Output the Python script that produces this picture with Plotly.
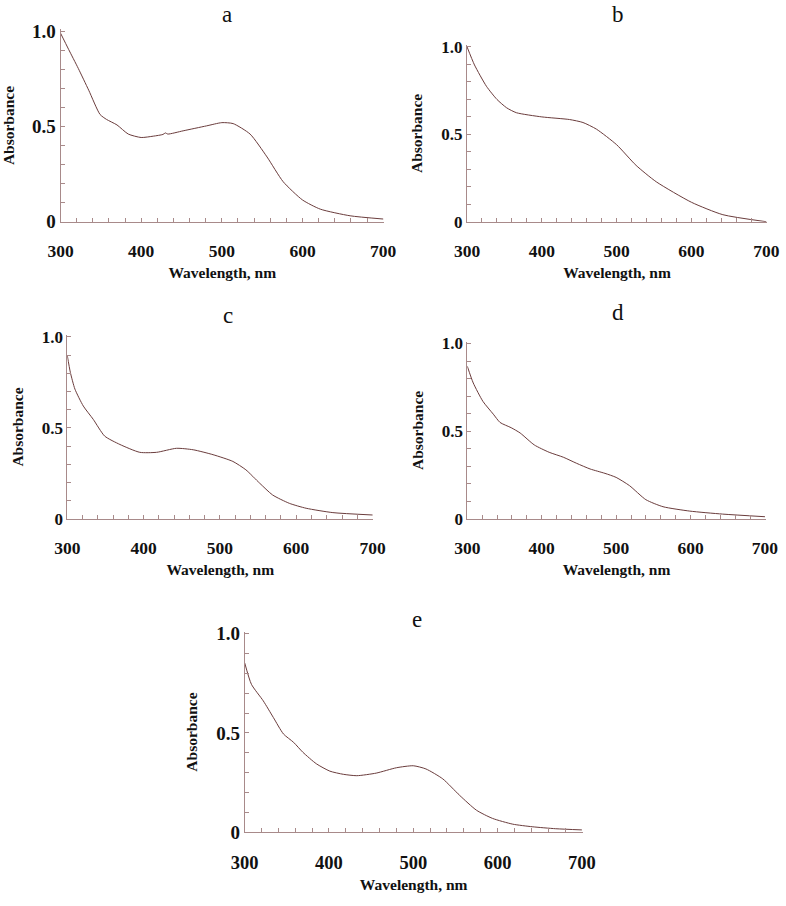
import plotly.graph_objects as go

W, H = 786, 906

# ---- data ----
wl_a = [300, 310, 322, 335, 349, 357, 370, 384, 400, 415, 427, 430, 433, 452, 481, 500, 514, 535, 556, 576, 600, 622, 659, 700]
abs_a = [0.99, 0.905, 0.805, 0.69, 0.563, 0.537, 0.508, 0.46, 0.442, 0.449, 0.458, 0.466, 0.46, 0.477, 0.503, 0.52, 0.515, 0.46, 0.34, 0.21, 0.114, 0.066, 0.031, 0.014]

wl_b = [300, 310, 326, 340, 353, 366, 400, 437, 455, 473, 500, 526, 553, 600, 642, 700]
abs_b = [1.0, 0.896, 0.774, 0.699, 0.651, 0.623, 0.599, 0.584, 0.567, 0.529, 0.44, 0.322, 0.228, 0.111, 0.04, 0.0]

wl_c = [300, 304, 310, 321, 334, 349, 369, 395, 417, 443, 465, 491, 517, 534, 552, 569, 591, 613, 648, 700]
abs_c = [0.897, 0.805, 0.713, 0.62, 0.547, 0.455, 0.409, 0.366, 0.366, 0.388, 0.38, 0.353, 0.316, 0.27, 0.197, 0.132, 0.086, 0.059, 0.035, 0.022]

wl_d = [300, 308, 321, 335, 344, 359, 371, 390, 410, 429, 447, 465, 485, 500, 518, 540, 563, 599, 643, 700]
abs_d = [0.87, 0.775, 0.67, 0.597, 0.55, 0.52, 0.49, 0.422, 0.38, 0.352, 0.317, 0.285, 0.26, 0.237, 0.19, 0.11, 0.07, 0.045, 0.028, 0.013]

wl_e = [300, 308, 322, 334, 346, 358, 369, 385, 401, 417, 433, 456, 480, 500, 515, 535, 555, 575, 594, 618, 641, 669, 700]
abs_e = [0.853, 0.745, 0.662, 0.578, 0.495, 0.453, 0.403, 0.345, 0.308, 0.292, 0.285, 0.298, 0.325, 0.335, 0.319, 0.269, 0.186, 0.111, 0.07, 0.041, 0.028, 0.018, 0.012]

panel_labels = ["a", "b", "c", "d", "e"]
x_tick_vals = [300, 400, 500, 600, 700]
x_tick_text = ["300", "400", "500", "600", "700"]
y_tick_vals = [0, 0.5, 1.0]
y_tick_text = ["0", "0.5", "1.0"]
x_title = "Wavelength, nm"
y_title = "Absorbance"

series = [(wl_a, abs_a), (wl_b, abs_b), (wl_c, abs_c), (wl_d, abs_d), (wl_e, abs_e)]

# ---- layout (pixel geometry of each panel: left, right, top, bottom) ----
boxes = [
    (60.5, 384, 29.3, 221.7),
    (467, 767, 45, 221.7),
    (67.3, 373.3, 335, 519),
    (467.3, 765.7, 341.7, 519),
    (244.7, 582.7, 631.7, 832.3),
]
# panel-letter placement: (x centre, y, vertical anchor)
label_pos = [(227, 0, "top"), (618, 0, "top"), (228, 315, "middle"), (618, 312, "middle"), (417, 619, "middle")]
ytick_sizes = [19, 17, 17, 17, 19]
xtick_sizes = [17.5, 17.5, 17.5, 17.5, 18.5]

LINE = "#6a3c3c"
AXIS = "#a88a8a"
SERIF = "Liberation Serif, Times New Roman, serif"

minor_x = [v for v in range(300, 701, 20)]
minor_y = [i / 10 for i in range(0, 11)]

fig = go.Figure()
layout = dict(
    width=W, height=H,
    margin=dict(l=0, r=0, t=0, b=0, autoexpand=False),
    paper_bgcolor="white", plot_bgcolor="white",
    showlegend=False,
    annotations=[],
)

for i, ((wl, ab), (l, r, t, b)) in enumerate(zip(series, boxes)):
    n = "" if i == 0 else str(i + 1)
    fig.add_trace(go.Scatter(
        x=wl, y=ab, mode="lines",
        line=dict(color=LINE, width=1.0, shape="spline", smoothing=0.6),
        xaxis="x" + n, yaxis="y" + n, hoverinfo="skip",
    ))
    layout["xaxis" + n] = dict(
        domain=[l / W, r / W], anchor="y" + n, automargin=False,
        range=[300, 701], showgrid=False, zeroline=False,
        showline=True, linecolor=AXIS, linewidth=1,
        tickmode="array", tickvals=x_tick_vals, ticktext=x_tick_text,
        ticks="inside", ticklen=4, tickcolor=AXIS, tickwidth=1,
        minor=dict(tickmode="array", tickvals=minor_x, ticks="inside", ticklen=4, tickcolor=AXIS),
        tickfont=dict(family=SERIF, size=xtick_sizes[i], color="#111", weight="bold"),
        ticklabelstandoff=13,
        title=dict(text=x_title, standoff=7,
                   font=dict(family=SERIF, size=15.5, color="#111", weight="bold")),
        fixedrange=True,
    )
    layout["yaxis" + n] = dict(
        domain=[1 - b / H, 1 - t / H], anchor="x" + n, automargin=False,
        range=[0, 1.01], showgrid=False, zeroline=False,
        showline=True, linecolor=AXIS, linewidth=1,
        tickmode="array", tickvals=y_tick_vals, ticktext=y_tick_text,
        ticks="inside", ticklen=4, tickcolor=AXIS, tickwidth=1,
        minor=dict(tickmode="array", tickvals=minor_y, ticks="inside", ticklen=4, tickcolor=AXIS),
        tickfont=dict(family=SERIF, size=ytick_sizes[i], color="#111", weight="bold"),
        title=dict(text=y_title, standoff=14,
                   font=dict(family=SERIF, size=15.5, color="#111", weight="bold")),
        fixedrange=True,
    )
    lx, ly, anc = label_pos[i]
    layout["annotations"].append(dict(
        text=panel_labels[i], x=lx / W, y=1 - ly / H, xref="paper", yref="paper",
        xanchor="center", yanchor=anc, showarrow=False,
        font=dict(family=SERIF, size=23, color="#111"),
    ))

fig.update_layout(**layout)
fig.write_html(
    "out.html",
    config={"displayModeBar": False},
    post_script="document.body.style.margin='0';document.body.style.overflow='hidden';",
)
